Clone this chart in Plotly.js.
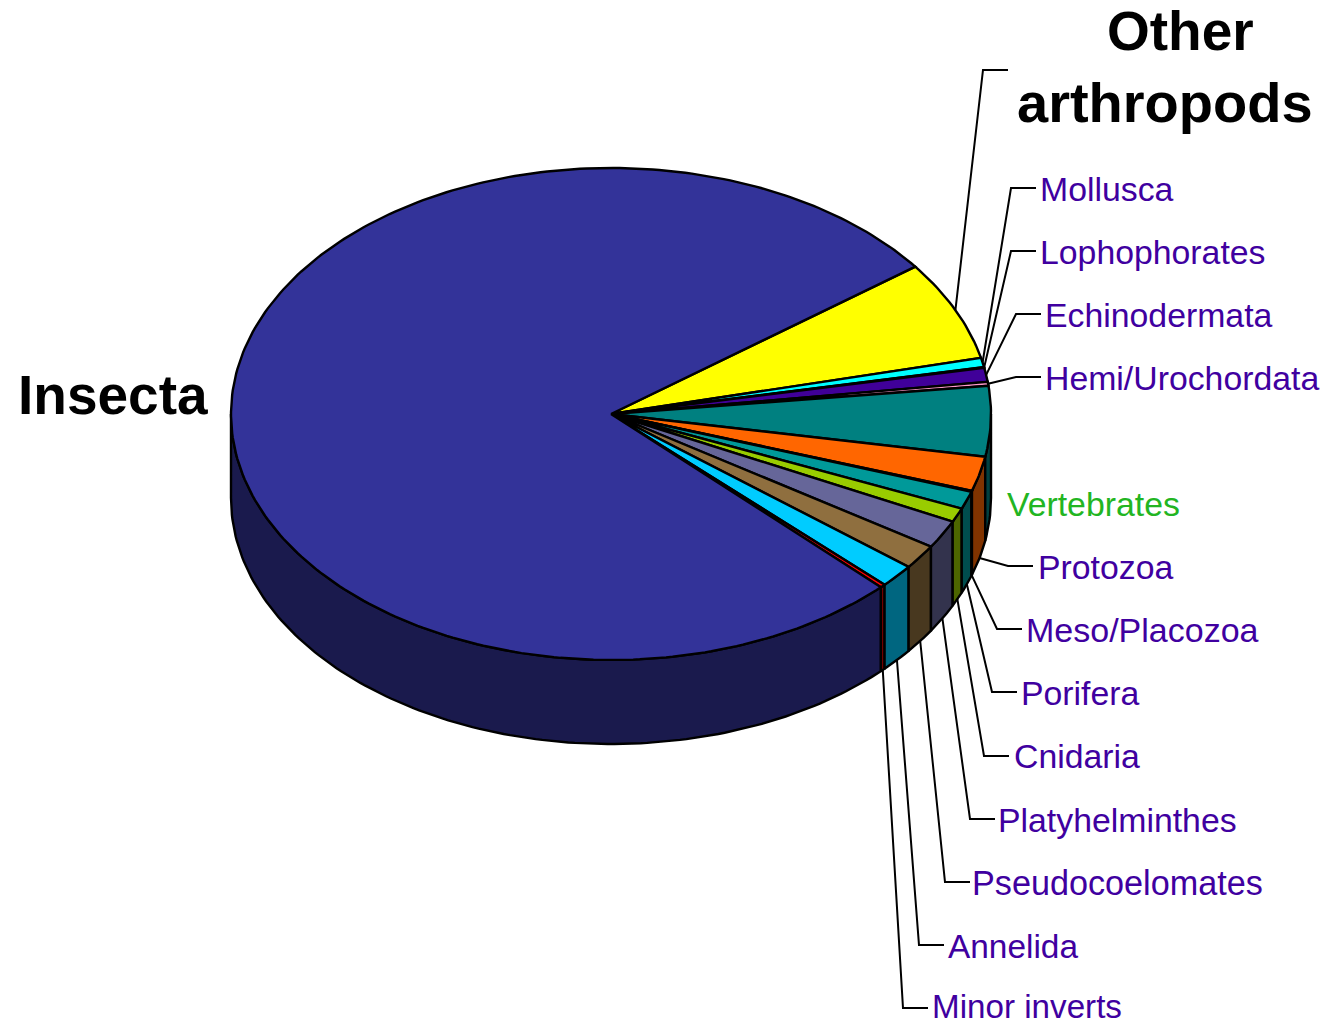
<!DOCTYPE html>
<html><head><meta charset="utf-8">
<script src="https://cdn.plot.ly/plotly-3.0.1.min.js"></script>
<style>html,body{margin:0;padding:0;background:#fff}#c{width:1326px;height:1025px}</style>
</head><body><div id="c"></div>
<script>
// Data, clockwise from the Insecta / Other arthropods boundary (percent)
const categories = ["Other arthropods","Mollusca","Lophophorates","Echinodermata","Hemi/Urochordata","Vertebrates","Protozoa","Meso/Placozoa","Porifera","Cnidaria","Platyhelminthes","Pseudocoelomates","Annelida","Minor inverts","Insecta"];
const values = [6.56,0.61,0.05,0.92,0.25,4.61,2.28,0.06,1.17,0.92,1.86,1.61,1.53,0.22,77.35];
const topColors = ["#ffff00","#00ffff","#ccffff","#400099","#ff99cc","#008080","#ff6600","#800080","#009999","#99cc00","#666699","#8f6f3f","#00ccff","#ff0000","#333399"];
const sideColors = ["#808000","#008080","#668080","#20004d","#804d66","#004040","#803300","#400040","#004d4d","#4d6600","#33334d","#48381f","#006680","#800000","#1a1a4d"];
// Layout
const cx = 611, cy = 414, rx = 380, ry = 246, depth = 84, startAngle = 36.8;
const textPurple = "#4000a0", textGreen = "#22b522";
const labelX = [null,1039,1039,1044,1044,1006,1037,1025,1020,1013,997,971,947,931];
const labelY = [null,189,252,315,378,504,567,630,693,756,820,883,946,1006];
const labelSize = [null,33.8,33.8,33.8,33.8,33.8,33.8,34,33.8,33.8,33.8,34.2,33.4,33.2];
const elbowX = [983,1011,1011,1016,1016,null,1008,997,992,984,970,945,919,903];
const elbowY = [70,188,251,314,377,null,566,629,692,756,819,882,945,1008];
const tailLen = 25;

const rad = d => d*Math.PI/180;
const px = a => cx + rx*Math.cos(rad(a));
const py = (a,dz=0) => cy - ry*Math.sin(rad(a)) + dz;
function arc(a0,a1,dz){ // a0 > a1
  const n = Math.max(1,Math.ceil(Math.abs(a0-a1)));
  const xs=[],ys=[];
  for(let i=0;i<=n;i++){const a=a0+(a1-a0)*i/n;xs.push(px(a));ys.push(py(a,dz));}
  return [xs,ys];
}
const total = values.reduce((s,v)=>s+v,0);
let running = startAngle;
const slices = values.map((v,i)=>{const a0=running,a1=running-v/total*360;running=a1;return {i,a0,a1,mid:(a0+a1)/2};});

const poly = (xs,ys,fill)=>({type:"scatter",mode:"lines",x:xs,y:ys,fill:"toself",fillcolor:fill,
  line:{color:"#000",width:2.4,shape:"linear"},hoverinfo:"skip",showlegend:false});
const traces=[];
// leader lines
slices.forEach(s=>{
  if(s.i>=elbowX.length||elbowX[s.i]===null) return;
  const onSide = s.mid<0;
  traces.push({type:"scatter",mode:"lines",
    x:[px(s.mid),elbowX[s.i],elbowX[s.i]+tailLen],
    y:[py(s.mid,onSide?depth:0),elbowY[s.i],elbowY[s.i]],
    line:{color:"#000",width:2},hoverinfo:"skip",showlegend:false});
});
// side walls, from the back toward the viewer
slices.slice().sort((p,q)=>(p.i===14?-1:q.i===14?1:q.i-p.i)).forEach(s=>{
  const a0=Math.min(s.a0,0),a1=Math.max(s.a1,-180);
  if(a0<=a1) return;
  const [tx,ty]=arc(a0,a1,0),[bx,by]=arc(a1,a0,depth);
  traces.push(poly(tx.concat(bx,[tx[0]]),ty.concat(by,[ty[0]]),sideColors[s.i]));
});
// top faces
slices.forEach(s=>{
  const [tx,ty]=arc(s.a0,s.a1,0);
  traces.push(poly([cx].concat(tx,[cx]),[cy].concat(ty,[cy]),topColors[s.i]));
});
const ann=[];
categories.forEach((c,i)=>{
  if(!labelX[i]) return;
  ann.push({x:labelX[i],y:labelY[i],xref:"x",yref:"y",xanchor:"left",yanchor:"middle",text:c,showarrow:false,borderpad:0,
    font:{family:"Liberation Sans",size:labelSize[i],color:c==="Vertebrates"?textGreen:textPurple}});
});
const big=(t,x,y,anchor,size)=>({x,y,xref:"x",yref:"y",xanchor:anchor,yanchor:"middle",text:t,showarrow:false,borderpad:0,
    font:{family:"Liberation Sans",size,color:"#000"}});
ann.push(big("<b>Other</b>",1180.5,31,"center",55),big("<b>arthropods</b>",1165,102,"center",56),big("<b>Insecta</b>",17,395,"left",55));

Plotly.newPlot("c",traces,{width:1326,height:1025,margin:{l:0,r:0,t:0,b:0},paper_bgcolor:"#fff",plot_bgcolor:"#fff",showlegend:false,
  xaxis:{range:[0,1326],visible:false,fixedrange:true},
  yaxis:{range:[1025,0],visible:false,fixedrange:true},
  annotations:ann},{displayModeBar:false,staticPlot:true});
</script></body></html>
